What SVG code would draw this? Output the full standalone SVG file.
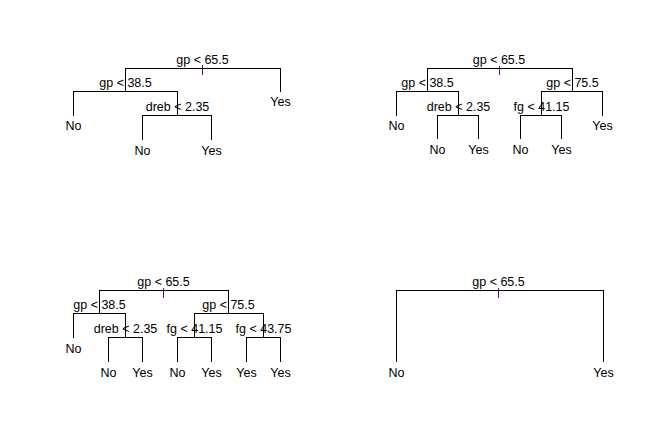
<svg xmlns="http://www.w3.org/2000/svg" width="645" height="446" viewBox="0 0 645 446">
<style>
.e{fill:none;stroke:#000;stroke-width:1;shape-rendering:crispEdges}
.t{fill:none;stroke:#5a1560;stroke-width:1;shape-rendering:crispEdges}
text{font-family:"Liberation Sans",Arial,sans-serif;font-size:12.5px;fill:#000;text-anchor:middle}
</style>
<rect width="645" height="446" fill="#fff"/>
<g id="connectors">
<path class="e" d="M125.5 91.5V68.5H280.5V91.5M73.5 115.5V91.5H177.5V115.5M142.5 139.5V115.5H211.5V139.5"/>
<path class="e" d="M427.5 91.5V68.5H572.5V91.5M396.5 115.5V91.5H458.5V115.5M437.5 138.5V115.5H478.5V138.5M541.5 115.5V91.5H602.5V115.5M520.5 138.5V115.5H561.5V138.5"/>
<path class="e" d="M99.5 313.5V290.5H228.5V313.5M73.5 337.5V313.5H125.5V337.5M108.5 361.5V337.5H142.5V361.5M194.5 337.5V313.5H263.5V337.5M177.5 361.5V337.5H211.5V361.5M246.5 361.5V337.5H280.5V361.5"/>
<path class="e" d="M396.5 361.5V290.5H603.5V361.5"/>
<path class="t" d="M202.5 65V75M499.5 66V75M163.5 288V298M498.5 288V298"/>
</g>
<g id="tree1">
<g id="t1-root"><text x="202.5" y="64">gp &lt; 65.5</text></g>
<g id="t1-n2"><text x="125.5" y="87">gp &lt; 38.5</text></g>
<g id="t1-n3"><text x="177.5" y="111">dreb &lt; 2.35</text></g>
<g id="t1-l1"><text x="73.5" y="130">No</text></g>
<g id="t1-l2"><text x="142.5" y="154.5">No</text></g>
<g id="t1-l3"><text x="211.5" y="154.5">Yes</text></g>
<g id="t1-l4"><text x="280.5" y="106">Yes</text></g>
</g>
<g id="tree2">
<g id="t2-root"><text x="499" y="64">gp &lt; 65.5</text></g>
<g id="t2-n2"><text x="427.5" y="87">gp &lt; 38.5</text></g>
<g id="t2-n3"><text x="572.5" y="87">gp &lt; 75.5</text></g>
<g id="t2-n4"><text x="458.5" y="111">dreb &lt; 2.35</text></g>
<g id="t2-n5"><text x="541.5" y="111">fg &lt; 41.15</text></g>
<g id="t2-l1"><text x="396.5" y="130">No</text></g>
<g id="t2-l2"><text x="437.5" y="153.5">No</text></g>
<g id="t2-l3"><text x="478.5" y="153.5">Yes</text></g>
<g id="t2-l4"><text x="520.5" y="153.5">No</text></g>
<g id="t2-l5"><text x="561.5" y="153.5">Yes</text></g>
<g id="t2-l6"><text x="602.5" y="130">Yes</text></g>
</g>
<g id="tree3">
<g id="t3-root"><text x="163.5" y="286">gp &lt; 65.5</text></g>
<g id="t3-n2"><text x="99.5" y="309">gp &lt; 38.5</text></g>
<g id="t3-n3"><text x="228.5" y="309">gp &lt; 75.5</text></g>
<g id="t3-n4"><text x="125.5" y="333">dreb &lt; 2.35</text></g>
<g id="t3-n5"><text x="194.5" y="333">fg &lt; 41.15</text></g>
<g id="t3-n6"><text x="263.5" y="333">fg &lt; 43.75</text></g>
<g id="t3-l1"><text x="73.5" y="352.5">No</text></g>
<g id="t3-l2"><text x="108.5" y="376.5">No</text></g>
<g id="t3-l3"><text x="142.5" y="376.5">Yes</text></g>
<g id="t3-l4"><text x="177.5" y="376.5">No</text></g>
<g id="t3-l5"><text x="211.5" y="376.5">Yes</text></g>
<g id="t3-l6"><text x="246.5" y="376.5">Yes</text></g>
<g id="t3-l7"><text x="280.5" y="376.5">Yes</text></g>
</g>
<g id="tree4">
<g id="t4-root"><text x="498.5" y="286">gp &lt; 65.5</text></g>
<g id="t4-l1"><text x="396.5" y="376.5">No</text></g>
<g id="t4-l2"><text x="603.5" y="376.5">Yes</text></g>
</g>
</svg>
